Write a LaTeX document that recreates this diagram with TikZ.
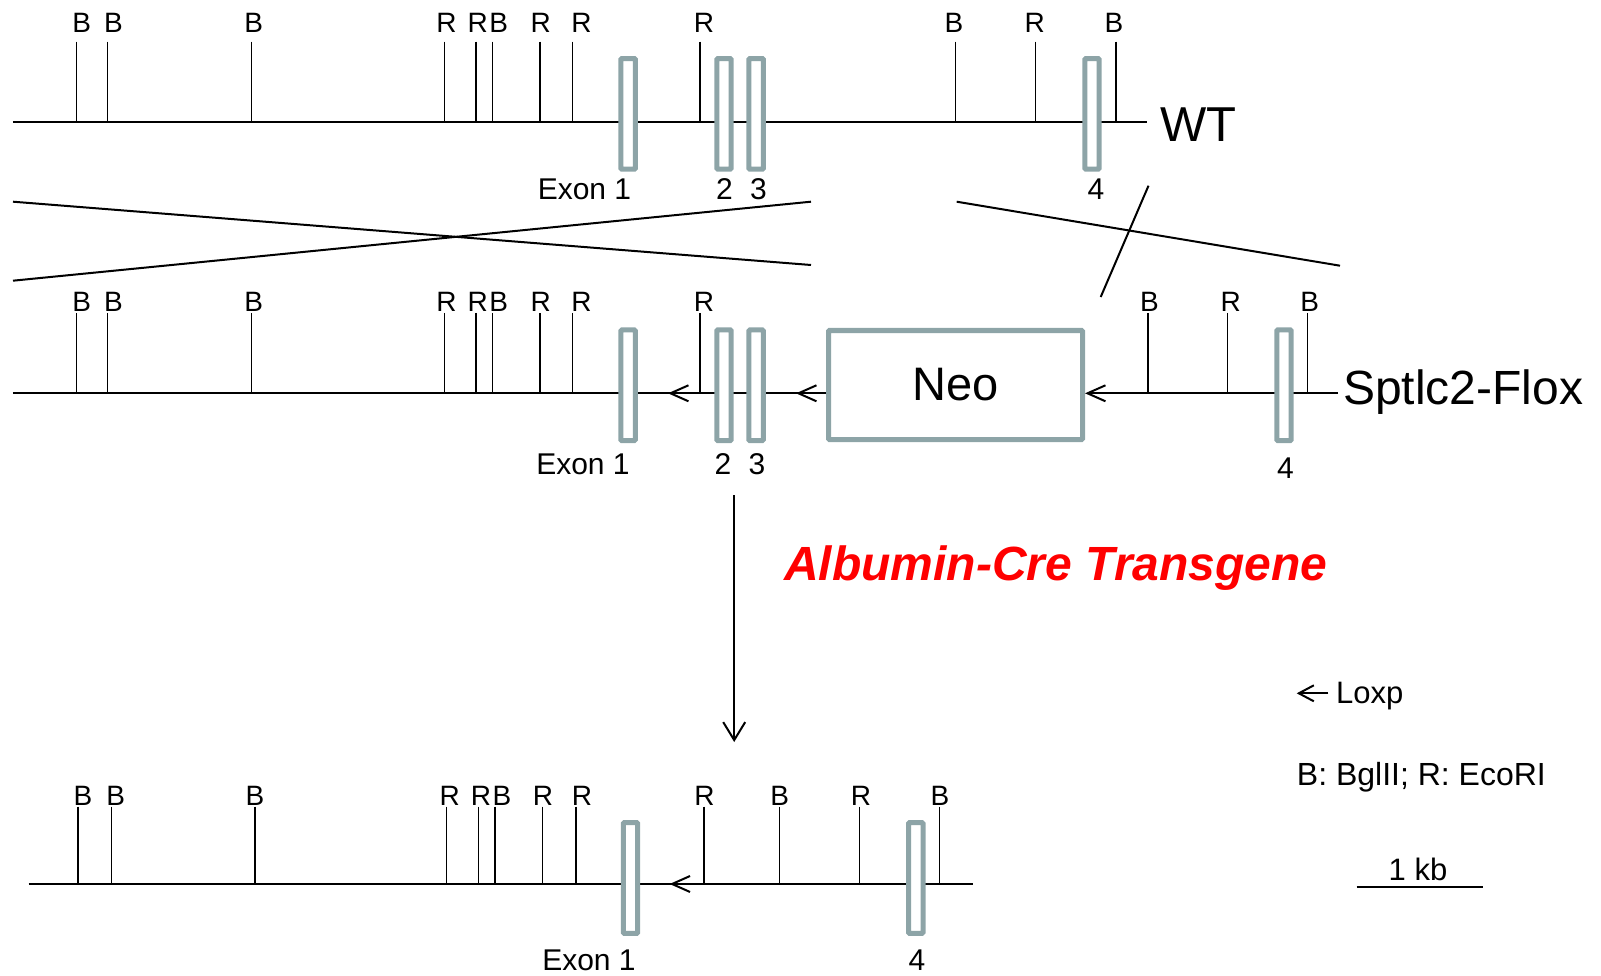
\documentclass[tikz,border=0pt]{standalone}
\usepackage{fontspec}
\setmainfont{Liberation Sans}
\usetikzlibrary{arrows.meta}
\definecolor{exongray}{RGB}{141,164,167}
\newcommand\fsz[1]{\fontsize{#1pt}{#1pt}\selectfont}
\begin{document}
\begin{tikzpicture}[x=1pt,y=-1pt,
  dna/.style={line width=2pt},
  tickline/.style={line width=1.5pt},
  exon/.style={draw=exongray, line width=5pt, fill=white, minimum width=14.4pt, minimum height=110.7pt, inner sep=0pt, rounded corners=1pt},
  neobox/.style={draw=exongray, line width=5pt, fill=white, minimum width=254pt, minimum height=109pt, inner sep=0pt, rounded corners=1pt, font=\fsz{47}},
  site/.style={font=\fsz{28}, anchor=base, inner sep=0pt},
  lab/.style={font=\fsz{30}, anchor=base, inner sep=0pt},
  big/.style={font=\fsz{48}, anchor=base west, inner sep=0pt},
  legend/.style={font=\fsz{31}, anchor=base west, inner sep=0pt},
  barb/.style={-{Straight Barb[length=18pt,width=16pt]}},
]
\useasboundingbox (0,0) rectangle (1601,976);

% ---------------- Row 1: WT ----------------
\coordinate (w0) at (12.8,121.7);
\coordinate (w1) at (1147,121.7);
\draw[dna] (w0) -- (w1);
\foreach \t/\l/\c [count=\i] in {76.5/81.6/B,107.7/113.5/B,251.5/253.8/B,444.4/446.4/R,476/477.8/R,492.3/498.7/B,539.8/540.8/R,572.4/581.6/R,700/704/R,955.6/954/B,1035.7/1034.7/R,1116/1114/B}{
  \draw[tickline] (\t,41.7) -- (\t,121.7);
  \node[site] (wsite\i) at (\l,33) {\c};
}
\node[exon] (wex1) at (628.1,113.9) {};
\node[exon] (wex2) at (724,113.9) {};
\node[exon] (wex3) at (756.1,113.9) {};
\node[exon] (wex4) at (1092,113.9) {};
\node[lab] (wl1) at (584.5,200) {Exon 1};
\node[lab] (wl2) at (724.5,200) {2};
\node[lab] (wl3) at (758.5,200) {3};
\node[lab] (wl4) at (1096,200) {4};
\node[big, font=\fsz{49}] (wt) at (1160,142) {WT};

% ---------------- crossover ----------------
\coordinate (xa1) at (13,201.7);
\coordinate (xa2) at (811,265);
\coordinate (xb1) at (13,280.7);
\coordinate (xb2) at (811,201.7);
\coordinate (xc1) at (956.7,201.7);
\coordinate (xc2) at (1340,265.7);
\coordinate (xs1) at (1148.5,185.7);
\coordinate (xs2) at (1100.7,297);
\draw[dna] (xa1) -- (xa2);
\draw[dna] (xb1) -- (xb2);
\draw[dna] (xc1) -- (xc2);
\draw[dna] (xs1) -- (xs2);

% ---------------- Row 2: Flox ----------------
\node[neobox] (neo) at (955.5,385) {Neo};
\coordinate (f0) at (12.8,393.3);
\coordinate (f1) at (1338,393.3);
\draw[dna] (f0) -- (neo.west |- f0);
\draw[dna,barb] (f1) -- (neo.east |- f1);
\draw[dna,barb] (neo.west |- f0) -- ++(-30,0) coordinate (fneotip);
\foreach \t/\l/\c [count=\i] in {76.5/81.6/B,107.7/113.5/B,251.5/253.8/B,444.4/446.4/R,476/477.8/R,492.3/498.7/B,539.8/540.8/R,572.4/581.6/R,1148/1149.5/B,1227.6/1230.6/R,1307.7/1309.7/B}{
  \draw[tickline] (\t,313) -- (\t,393.3);
  \node[site] (fsite\i) at (\l,312) {\c};
}
\node[site] (fsiteR) at (704,312) {R};
\coordinate (fr0) at (700,313);
\coordinate (fr1) at (700,393.3);
\coordinate (fr2) at (668,393.3);
\draw[tickline] (fr0) -- (fr1);
\draw[dna,barb] (fr1) -- (fr2);
\node[exon] (fex1) at (628.1,385.3) {};
\node[exon] (fex2) at (724,385.3) {};
\node[exon] (fex3) at (756.1,385.3) {};
\node[exon] (fex4) at (1284,385.3) {};
\node[lab] (fl1) at (583,474) {Exon 1};
\node[lab] (fl2) at (723,474) {2};
\node[lab] (fl3) at (757,474) {3};
\node[lab] (fl4) at (1285.5,478) {4};
\node[big] (flox) at (1343,404) {Sptlc2-Flox};

% ---------------- Cre arrow ----------------
\coordinate (ctop) at (734.2,495);
\coordinate (cbot) at (734.2,742);
\draw[dna,-{Straight Barb[length=18pt,width=22pt]}] (ctop) -- (cbot);
\node[big, text=red, font=\fsz{48}\bfseries\itshape] (cre) at (784,580) {Albumin-Cre Transgene};

% ---------------- Row 3: deleted ----------------
\coordinate (d0) at (28.7,884);
\coordinate (d1) at (972.6,884);
\draw[dna] (d0) -- (d1);
\foreach \t/\l/\c [count=\i] in {77.8/83/B,111.6/115.8/B,255/255/B,446.4/449.7/R,478.3/481/R,495/502/B,542.7/543/R,575.9/582/R,779.3/779.7/B,859.7/861/R,939.4/940/B}{
  \draw[tickline] (\t,806.7) -- (\t,884);
  \node[site] (dsite\i) at (\l,805) {\c};
}
\node[site] (dsiteR) at (704.6,805) {R};
\coordinate (dr0) at (704,806.7);
\coordinate (dr1) at (704,884);
\coordinate (dr2) at (669.6,884);
\draw[tickline] (dr0) -- (dr1);
\draw[dna,barb] (dr1) -- (dr2);
\node[exon] (dex1) at (630.5,878) {};
\node[exon] (dex4) at (915.8,878) {};
\node[lab] (dl1) at (589,970) {Exon 1};
\node[lab] (dl4) at (917,970) {4};

% ---------------- legend ----------------
\node[legend] (loxp) at (1336,703) {Loxp};
\coordinate (la0) at (1328.3,693.3);
\coordinate (la1) at (1296.7,693.3);
\draw[dna,-{Straight Barb[length=15pt,width=16pt]}] (la0) -- (la1);
\node[legend, font=\fsz{32}] (enz) at (1296.7,785) {B: BglII; R: EcoRI};
\node[legend, anchor=base] (kb) at (1418,880) {1 kb};
\coordinate (s0) at (1356.7,886.7);
\coordinate (s1) at (1483.3,886.7);
\draw[dna] (s0) -- (s1);
\end{tikzpicture}
\end{document}
